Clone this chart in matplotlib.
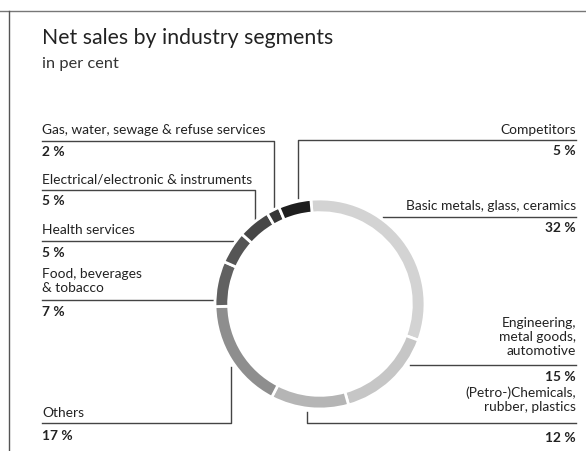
import matplotlib
matplotlib.use("Agg")
import matplotlib.pyplot as plt

# segments, clockwise starting just left of 12 o'clock
segments = ["Basic metals, glass, ceramics", "Engineering,\nmetal goods,\nautomotive",
            "(Petro-)Chemicals,\nrubber, plastics", "Others", "Food, beverages\n& tobacco",
            "Health services", "Electrical/electronic & instruments",
            "Gas, water, sewage & refuse services", "Competitors"]
shares = [32, 15, 12, 17, 7, 5, 5, 2, 5]
colors = ["#d3d3d3", "#c6c6c6", "#b5b5b5", "#8e8e8e", "#616161",
          "#555555", "#474747", "#363636", "#1e1e1e"]

W, H = 586, 451
fig = plt.figure(figsize=(W / 100, H / 100), dpi=100)
plt.rcParams['font.family'] = ['Lato', 'DejaVu Sans']

# overlay axes in pixel coords for text and leader lines
ov = fig.add_axes([0, 0, 1, 1])
ov.set_xlim(0, W)
ov.set_ylim(H, 0)
ov.axis("off")

# frame
ov.plot([0, W], [11, 11], color="#777777", lw=1)
ov.plot([9, 9], [11, H], color="#555555", lw=1)

ov.text(42, 38, "Net sales by industry segments", fontsize=15.3, color="#222222", va="center")
ov.text(42, 64, "in per cent", fontsize=11.8, color="#333333", va="center")

# donut
cx, cy, r = 320, 304, 105
pa = fig.add_axes([(cx - r) / W, (H - cy - r) / H, 2 * r / W, 2 * r / H])
pa.pie(shares, colors=colors, startangle=95, counterclock=False, radius=1,
       wedgeprops=dict(width=0.13, edgecolor="white", linewidth=2))
pa.set_xlim(-1, 1)
pa.set_ylim(-1, 1)

lc = "#444444"
fs = 9.9

def left_label(name, pct, ty, ly, py, path):
    ov.text(42, ty, name, fontsize=fs, color="#222222", va="center", linespacing=1.2)
    ov.text(42, py, f"{pct} %", fontsize=fs, color="#222222", va="center", fontweight="bold")
    xs, ys = zip(*([(42, ly)] + path))
    ov.plot(xs, ys, color=lc, lw=1)

def right_label(name, pct, ty, ly, py, path):
    ov.text(576, ty, name, fontsize=fs, color="#222222", va="center", ha="right",
            multialignment="right", linespacing=1.2)
    ov.text(576, py, f"{pct} %", fontsize=fs, color="#222222", va="center", ha="right",
            fontweight="bold")
    xs, ys = zip(*([(576, ly)] + path))
    ov.plot(xs, ys, color=lc, lw=1)

left_label(segments[7], shares[7], 130, 141, 152, [(274, 141), (274, 207)])
left_label(segments[6], shares[6], 180, 190, 201, [(255, 190), (255, 219)])
left_label(segments[5], shares[5], 230, 241, 253, [(233, 241)])
left_label(segments[4], shares[4], 281, 300, 312, [(213, 300)])
left_label(segments[3], shares[3], 413, 423, 436, [(231, 423), (231, 367)])

right_label(segments[8], shares[8], 130, 140, 151, [(298, 140), (298, 198)])
right_label(segments[0], shares[0], 206, 217, 228, [(383, 217)])
right_label(segments[1], shares[1], 337, 365, 377, [(410, 365)])
right_label(segments[2], shares[2], 400, 423, 438, [(307, 423), (307, 412)])

fig.savefig("out.png", dpi=100)
